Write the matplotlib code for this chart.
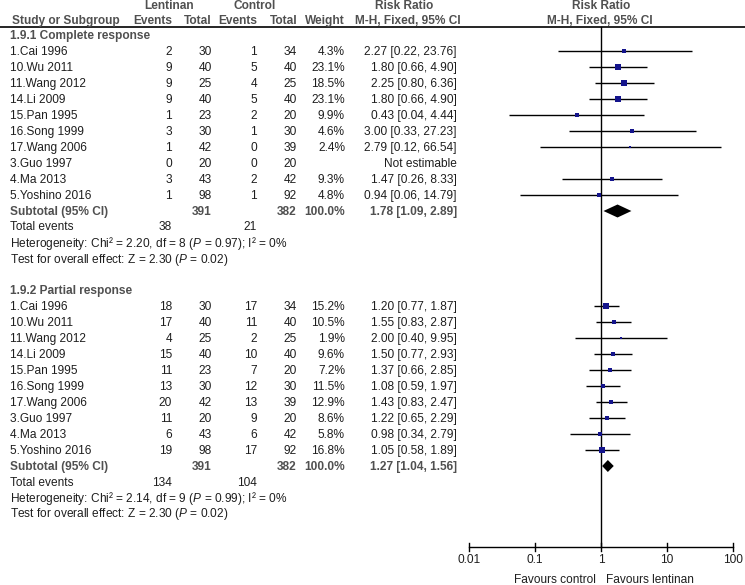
import numpy as np
import matplotlib
matplotlib.use("Agg")
import matplotlib.pyplot as plt

plt.rcParams["mathtext.fontset"] = "custom"
plt.rcParams["mathtext.rm"] = "Liberation Sans"
plt.rcParams["mathtext.it"] = "Liberation Sans:italic"
plt.rcParams["mathtext.bf"] = "Liberation Sans:bold"

# ---------------- data ----------------
studies = ["1.Cai 1996", "10.Wu 2011", "11.Wang 2012", "14.Li 2009", "15.Pan 1995",
           "16.Song 1999", "17.Wang 2006", "3.Guo 1997", "4.Ma 2013", "5.Yoshino 2016"]

# 1.9.1 Complete response
cr_lent_ev = [2, 9, 9, 9, 1, 3, 1, 0, 3, 1]
cr_lent_tot = [30, 40, 25, 40, 23, 30, 42, 20, 43, 98]
cr_ctrl_ev = [1, 5, 4, 5, 2, 1, 0, 0, 2, 1]
cr_ctrl_tot = [34, 40, 25, 40, 20, 30, 39, 20, 42, 92]
cr_weight = [4.3, 23.1, 18.5, 23.1, 9.9, 4.6, 2.4, None, 9.3, 4.8]
cr_rr = [2.27, 1.80, 2.25, 1.80, 0.43, 3.00, 2.79, None, 1.47, 0.94]
cr_lo = [0.22, 0.66, 0.80, 0.66, 0.04, 0.33, 0.12, None, 0.26, 0.06]
cr_hi = [23.76, 4.90, 6.36, 4.90, 4.44, 27.23, 66.54, None, 8.33, 14.79]
cr_sub = (1.78, 1.09, 2.89)
cr_totals = (391, 382)
cr_events = (38, 21)
cr_het = ("2.20", "8", "0.97", "0%")
cr_z = ("2.30", "0.02")

# 1.9.2 Partial response
pr_lent_ev = [18, 17, 4, 15, 11, 13, 20, 11, 6, 19]
pr_lent_tot = [30, 40, 25, 40, 23, 30, 42, 20, 43, 98]
pr_ctrl_ev = [17, 11, 2, 10, 7, 12, 13, 9, 6, 17]
pr_ctrl_tot = [34, 40, 25, 40, 20, 30, 39, 20, 42, 92]
pr_weight = [15.2, 10.5, 1.9, 9.6, 7.2, 11.5, 12.9, 8.6, 5.8, 16.8]
pr_rr = [1.20, 1.55, 2.00, 1.50, 1.37, 1.08, 1.43, 1.22, 0.98, 1.05]
pr_lo = [0.77, 0.83, 0.40, 0.77, 0.66, 0.59, 0.83, 0.65, 0.34, 0.58]
pr_hi = [1.87, 2.87, 9.95, 2.93, 2.85, 1.97, 2.47, 2.29, 2.79, 1.89]
pr_sub = (1.27, 1.04, 1.56)
pr_totals = (391, 382)
pr_events = (134, 104)
pr_het = ("2.14", "9", "0.99", "0%")
pr_z = ("2.30", "0.02")

tick_vals = [0.01, 0.1, 1, 10, 100]
tick_labels = ["0.01", "0.1", "1", "10", "100"]

# ---------------- figure ----------------
W, H = 745, 585
fig = plt.figure(figsize=(W / 100, H / 100), dpi=100)
ax = fig.add_axes([0, 0, 1, 1])
ax.set_xlim(0, W)
ax.set_ylim(H, 0)
ax.axis("off")

X0, X1 = 469, 733
axf = fig.add_axes([X0 / W, 0, (X1 - X0) / W, 1])
axf.set_xscale("log")
axf.set_xlim(0.01, 100)
axf.set_ylim(H, 0)
axf.axis("off")

FS = 8.6
FONT = "Liberation Sans"
TXT = "#1e1e1e"
BOLD = "#505050"
BLUE = "#14148c"

def t(x, y, s, ha="left", bold=False, color=None, **kw):
    ax.text(x, y, s, ha=ha, va="center", fontsize=FS, family=FONT,
            fontweight="bold" if bold else "normal",
            color=color if color else (BOLD if bold else TXT), **kw)

# column x positions (right edges)
C_LEV, C_LTOT, C_CEV, C_CTOT, C_W, C_RR = 172, 212, 257, 297, 345, 457

# header
t(169, 6, "Lentinan", ha="center", bold=True)
t(255, 6, "Control", ha="center", bold=True)
t(404, 6, "Risk Ratio", ha="center", bold=True)
t(601, 6, "Risk Ratio", ha="center", bold=True)
t(12, 21, "Study or Subgroup", bold=True)
t(C_LEV, 21, "Events", ha="right", bold=True)
t(C_LTOT, 21, "Total", ha="right", bold=True)
t(C_CEV, 21, "Events", ha="right", bold=True)
t(C_CTOT, 21, "Total", ha="right", bold=True)
t(C_W, 21, "Weight", ha="right", bold=True)
t(408, 21, "M-H, Fixed, 95% CI", ha="center", bold=True)
t(600, 21, "M-H, Fixed, 95% CI", ha="center", bold=True)
ax.plot([0, W], [27, 27], color="black", lw=1.2)


def block(y_head, y_first, title, lev, ltot, cev, ctot, wt, rr, lo, hi, sub, totals,
          events, het, z, diamond_h):
    t(10, y_head, title, bold=True)
    for i, name in enumerate(studies):
        y = y_first + 16 * i
        t(10, y, name)
        t(C_LEV, y, str(lev[i]), ha="right")
        t(C_LTOT, y, str(ltot[i]), ha="right")
        t(C_CEV, y, str(cev[i]), ha="right")
        t(C_CTOT, y, str(ctot[i]), ha="right")
        if rr[i] is None:
            t(C_RR, y, "Not estimable", ha="right")
            continue
        t(C_W, y, f"{wt[i]:.1f}%", ha="right")
        t(C_RR, y, f"{rr[i]:.2f} [{lo[i]:.2f}, {hi[i]:.2f}]", ha="right")
        yy = y - 1
        axf.plot([lo[i], hi[i]], [yy, yy], color="black", lw=1.0,
                 solid_capstyle="butt", clip_on=False)
        side_px = 1.2 * np.sqrt(wt[i]) + 0.6
        axf.plot([rr[i]], [yy], marker="s", ms=side_px * 0.72, color=BLUE,
                 mec=BLUE, mew=0, clip_on=False, zorder=4)
    ys = y_first + 16 * len(studies)
    t(10, ys, "Subtotal (95% CI)", bold=True)
    t(C_LTOT, ys, str(totals[0]), ha="right", bold=True)
    t(C_CTOT, ys, str(totals[1]), ha="right", bold=True)
    t(C_W, ys, "100.0%", ha="right", bold=True)
    t(C_RR, ys, f"{sub[0]:.2f} [{sub[1]:.2f}, {sub[2]:.2f}]", ha="right", bold=True)
    yd = ys - 1
    axf.fill([sub[1], sub[0], sub[2], sub[0]],
             [yd, yd - diamond_h / 2, yd, yd + diamond_h / 2],
             color="black", lw=0, clip_on=False, zorder=4)
    t(10, ys + 15.5, "Total events")
    t(C_LEV, ys + 15.5, str(events[0]), ha="right")
    t(C_CEV, ys + 15.5, str(events[1]), ha="right")
    t(10, ys + 31.5,
      f"Heterogeneity: Chi² = {het[0]}, df = {het[1]} ($\\mathit{{P}}$ = {het[2]}); I² = {het[3]}")
    t(10, ys + 47.5, f"Test for overall effect: Z = {z[0]} ($\\mathit{{P}}$ = {z[1]})")


block(36, 52, "1.9.1 Complete response", cr_lent_ev, cr_lent_tot, cr_ctrl_ev, cr_ctrl_tot,
      cr_weight, cr_rr, cr_lo, cr_hi, cr_sub, cr_totals, cr_events, cr_het, cr_z, 13)
block(291, 307, "1.9.2 Partial response", pr_lent_ev, pr_lent_tot, pr_ctrl_ev, pr_ctrl_tot,
      pr_weight, pr_rr, pr_lo, pr_hi, pr_sub, pr_totals, pr_events, pr_het, pr_z, 12)

# vertical line of no effect
AX_Y = 547
axf.plot([1, 1], [27, AX_Y], color="black", lw=1.0, clip_on=False)

# bottom axis
axf.plot([tick_vals[0], tick_vals[-1]], [AX_Y, AX_Y], color="black", lw=1.0, clip_on=False)
for v, lab in zip(tick_vals, tick_labels):
    axf.plot([v, v], [AX_Y - 4, AX_Y + 4], color="black", lw=1.0, clip_on=False)
    axf.text(v, AX_Y + 13, lab, ha="center", va="center", fontsize=FS, family=FONT, color=TXT)
axf.text(0.85, AX_Y + 33, "Favours control", ha="right", va="center", fontsize=FS,
         family=FONT, color=TXT)
axf.text(1.18, AX_Y + 33, "Favours lentinan", ha="left", va="center", fontsize=FS,
         family=FONT, color=TXT)

fig.savefig("out.png", dpi=100, facecolor="white")
